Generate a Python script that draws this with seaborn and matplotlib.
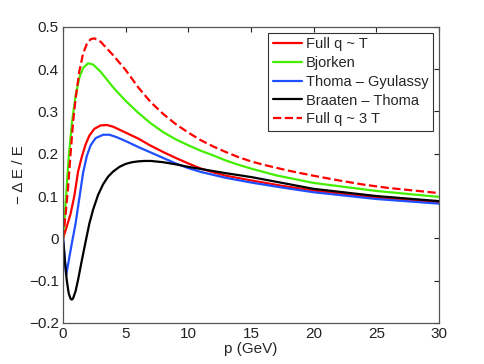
import matplotlib
matplotlib.use("Agg")
import matplotlib.pyplot as plt
import seaborn as sns
import pandas as pd

# Full q ~ T (red solid)
p_red = [0, 0.3, 0.6, 0.9, 1.2, 1.5, 1.8, 2.1, 2.5, 3.0, 3.5, 4.0, 5, 6, 7, 8, 9, 10, 11, 12, 13, 15, 17.5, 20, 25, 30]
v_red = [0, 0.028, 0.058, 0.1, 0.158, 0.193, 0.222, 0.243, 0.259, 0.267, 0.268, 0.264, 0.25, 0.236, 0.219, 0.204, 0.19, 0.177, 0.165, 0.156, 0.148, 0.137, 0.124, 0.113, 0.096, 0.085]

# Bjorken (green)
p_green = [0, 0.15, 0.3, 0.45, 0.7, 1.0, 1.3, 1.6, 2.0, 2.4, 3.0, 4, 5, 6, 7, 8, 9, 10, 11, 12, 13, 14, 15, 17, 20, 25, 30]
v_green = [0, 0.06, 0.125, 0.19, 0.272, 0.337, 0.38, 0.403, 0.414, 0.411, 0.394, 0.357, 0.325, 0.297, 0.272, 0.251, 0.234, 0.22, 0.207, 0.196, 0.184, 0.174, 0.165, 0.149, 0.131, 0.112, 0.098]

# Thoma - Gyulassy (blue)
p_blue = [0, 0.25, 0.5, 0.7, 1.0, 1.3, 1.6, 1.9, 2.2, 2.6, 3.2, 3.7, 4.3, 5, 6, 7, 8, 9, 10, 11, 12, 13, 15, 17.5, 20, 25, 30]
v_blue = [0, -0.087, -0.045, -0.012, 0.035, 0.095, 0.155, 0.195, 0.22, 0.237, 0.245, 0.245, 0.239, 0.23, 0.216, 0.203, 0.19, 0.177, 0.166, 0.157, 0.15, 0.143, 0.132, 0.12, 0.109, 0.093, 0.082]

# Braaten - Thoma (black)
p_black = [0, 0.15, 0.3, 0.45, 0.6, 0.7, 0.8, 1.0, 1.2, 1.5, 1.8, 2.1, 2.4, 2.8, 3.2, 3.6, 4.0, 4.5, 5, 5.5, 6, 6.5, 7, 8, 9, 10, 11, 12, 13, 15, 17.5, 20, 25, 30]
v_black = [0, -0.055, -0.1, -0.13, -0.143, -0.145, -0.142, -0.125, -0.098, -0.052, -0.008, 0.035, 0.068, 0.103, 0.128, 0.146, 0.158, 0.169, 0.176, 0.18, 0.182, 0.183, 0.183, 0.18, 0.175, 0.169, 0.164, 0.159, 0.154, 0.145, 0.131, 0.117, 0.1, 0.088]

# Full q ~ 3 T (red dashed)
p_dash = [0, 0.2, 0.4, 0.6, 0.8, 1.0, 1.3, 1.6, 1.9, 2.2, 2.5, 3.0, 4, 5, 6, 7, 8, 9, 10, 11, 12, 13, 14, 15, 16, 18, 20, 22, 24, 26, 28, 30]
v_dash = [0, 0.055, 0.12, 0.2, 0.275, 0.33, 0.395, 0.437, 0.46, 0.471, 0.473, 0.465, 0.433, 0.398, 0.357, 0.322, 0.294, 0.27, 0.25, 0.232, 0.217, 0.204, 0.192, 0.182, 0.174, 0.16, 0.148, 0.137, 0.127, 0.119, 0.113, 0.107]

labels = ["Full q ~ T", "Bjorken", "Thoma – Gyulassy", "Braaten – Thoma", "Full q ~ 3 T"]
x_ticks = [0, 5, 10, 15, 20, 25, 30]
y_ticks = [-0.2, -0.1, 0, 0.1, 0.2, 0.3, 0.4, 0.5]
y_ticklabels = ["\u22120.2", "\u22120.1", "0", "0.1", "0.2", "0.3", "0.4", "0.5"]

sns.set_style("white")
plt.rcParams['font.family'] = ['Liberation Sans', 'DejaVu Sans']
plt.rcParams['xtick.direction'] = 'in'
plt.rcParams['ytick.direction'] = 'in'

fig = plt.figure(figsize=(4.85, 3.64), dpi=100)
ax = fig.add_axes([0.130, 0.113, 0.775, 0.813])

series = [
    (p_red, v_red, "#ff0000", "-"),
    (p_green, v_green, "#44ee00", "-"),
    (p_blue, v_blue, "#1f4fff", "-"),
    (p_black, v_black, "#000000", "-"),
    (p_dash, v_dash, "#ff0000", "--"),
]
for (px, pv, col, ls), lab in zip(series, labels):
    df = pd.DataFrame({"p": px, "v": pv})
    sns.lineplot(data=df, x="p", y="v", ax=ax, color=col, linestyle=ls,
                 linewidth=1.6, label=lab, sort=False, estimator=None)

ax.set_xlim(0, 30)
ax.set_ylim(-0.2, 0.5)
ax.set_xticks(x_ticks)
ax.set_xticklabels([str(t) for t in x_ticks])
ax.set_yticks(y_ticks)
ax.set_yticklabels(y_ticklabels)
ax.tick_params(axis='both', labelsize=11, length=3.5, width=0.8, colors='#222222',
               top=True, right=True, labeltop=False, labelright=False, pad=3)
for s in ax.spines.values():
    s.set_color('#555555')
    s.set_linewidth(0.9)
ax.set_xlabel("p (GeV)", fontsize=11, labelpad=1)
ax.set_ylabel("\u2212 Δ E / E", fontsize=11, labelpad=2)

leg = ax.legend(loc='upper right', fontsize=10.5, frameon=True, fancybox=False,
                edgecolor='#333333', framealpha=1, borderpad=0.3, labelspacing=0.33,
                handlelength=2.0, handletextpad=0.3, borderaxespad=0.4)
leg.get_frame().set_linewidth(0.8)

fig.savefig("out.png", dpi=100)
